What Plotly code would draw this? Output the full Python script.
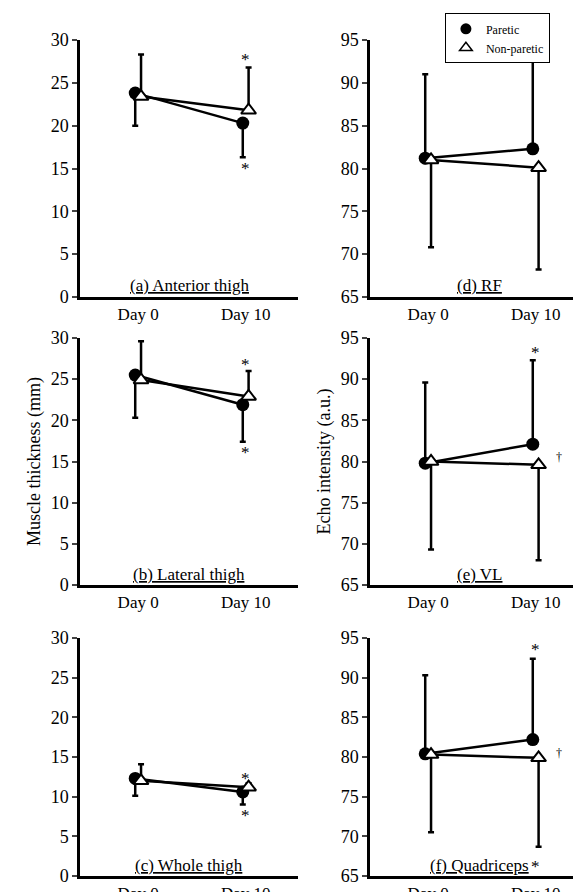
import plotly.graph_objects as go

days = ["Day 0", "Day 10"]
xpos = [0.8, 2.28]
panels = ["(a) Anterior thigh", "(b) Lateral thigh", "(c) Whole thigh", "(d) RF", "(e) VL", "(f) Quadriceps"]
paretic = [[23.8, 20.3], [25.5, 21.9], [12.3, 10.6], [81.2, 82.3], [79.8, 82.1], [80.4, 82.2]]
paretic_err = [[3.8, 4.0], [5.2, 4.5], [2.2, 1.6], [9.8, 10.3], [9.8, 10.2], [9.9, 10.2]]
nonparetic = [[23.4, 21.8], [24.9, 22.9], [12.0, 11.2], [81.0, 80.1], [80.0, 79.6], [80.3, 79.9]]
nonparetic_err = [[4.9, 5.0], [4.7, 3.1], [2.1, 0.5], [10.2, 11.9], [10.7, 11.6], [9.8, 11.2]]
# significance marks: (panel, day index, y, text, dx)
marks = [(0, 1, 27.7, "*", 0), (0, 1, 15.0, "*", 0), (1, 1, 26.8, "*", 0), (1, 1, 16.1, "*", 0),
         (2, 1, 12.3, "*", 0), (2, 1, 7.6, "*", 0), (4, 1, 93.2, "*", 0), (4, 1, 80.5, "†", 0.32),
         (5, 1, 93.5, "*", 0), (5, 1, 80.5, "†", 0.32), (5, 1, 66.2, "*", 0)]

FONT = "Liberation Serif, Times New Roman, serif"
W, H = 581, 892
xdom = [(72 / W, 290 / W), (362 / W, 580 / W)]
rows_px = [(32, 289), (330, 577), (630, 868)]

fig = go.Figure()
for i in range(6):
    col, row = i // 3, i % 3
    ax = i + 1
    xa, ya = ("x" if ax == 1 else f"x{ax}"), ("y" if ax == 1 else f"y{ax}")
    left = col == 0
    fig.add_trace(go.Scatter(
        x=[p - 0.04 for p in xpos], y=paretic[i], xaxis=xa, yaxis=ya, name="Paretic",
        showlegend=False, mode="lines+markers",
        line=dict(color="black", width=2.5), marker=dict(symbol="circle", size=13, color="black"),
        error_y=dict(type="data", array=[0, 0] if left else paretic_err[i],
                     arrayminus=paretic_err[i] if left else [0, 0],
                     symmetric=False, color="black", thickness=2.5, width=3)))
    fig.add_trace(go.Scatter(
        x=[p + 0.04 for p in xpos], y=nonparetic[i], xaxis=xa, yaxis=ya, name="Non-paretic",
        showlegend=False, mode="lines+markers",
        line=dict(color="black", width=2.5),
        marker=dict(symbol="triangle-up", size=13, color="white", line=dict(color="black", width=2)),
        error_y=dict(type="data", array=nonparetic_err[i] if left else [0, 0],
                     arrayminus=[0, 0] if left else nonparetic_err[i],
                     symmetric=False, color="black", thickness=2.5, width=3)))
    y0, y1 = rows_px[row]
    rng = [0, 30] if left else [65, 95]
    fig.layout[f"xaxis{ax if ax > 1 else ''}"] = dict(
        domain=list(xdom[col]), range=[0, 3], anchor=ya, tickvals=xpos, ticktext=days,
        showline=True, linecolor="black", linewidth=2.5, ticks="", showgrid=False, zeroline=False,
        tickfont=dict(size=17, family=FONT, color="black"))
    fig.layout[f"yaxis{ax if ax > 1 else ''}"] = dict(
        domain=[1 - y1 / H, 1 - y0 / H], range=rng, anchor=xa, dtick=5,
        showline=True, linecolor="black", linewidth=2.5, ticks="outside", ticklen=5, tickwidth=2,
        showgrid=False, zeroline=False, tickfont=dict(size=18, family=FONT, color="black"),
        title=dict(text=("Muscle thickness (mm)" if left else "Echo intensity (a.u.)") if row == 1 else "",
                   font=dict(size=18, family=FONT, color="black"), standoff=6))
    fig.add_annotation(x=1.5, y=rng[0] + 1.3, xref=xa, yref=ya, text=f"<u>{panels[i]}</u>",
                       showarrow=False, font=dict(size=17, family=FONT, color="black"))

# legend-only traces (markers only)
fig.add_trace(go.Scatter(x=[None], y=[None], mode="markers", name="Paretic",
                         marker=dict(symbol="circle", size=11, color="black")))
fig.add_trace(go.Scatter(x=[None], y=[None], mode="markers", name="Non-paretic",
                         marker=dict(symbol="triangle-up", size=11, color="white",
                                     line=dict(color="black", width=1.5))))

for (p, d, y, t, dx) in marks:
    ax = p + 1
    fig.add_annotation(x=xpos[d] + dx, y=y, xref="x" if ax == 1 else f"x{ax}",
                       yref="y" if ax == 1 else f"y{ax}", text=f'<span style="color:black">{t}</span>',
                       showarrow=False,
                       font=dict(size=17 if t == "*" else 12, family=FONT, color="#000000"))

fig.update_layout(
    template="none", font=dict(family=FONT, color="black"),
    width=W, height=H, margin=dict(l=0, r=0, t=0, b=0), plot_bgcolor="white", paper_bgcolor="white",
    legend=dict(x=0.752, y=0.994, xanchor="left", yanchor="top", bordercolor="black", borderwidth=1,
                font=dict(size=12, family=FONT, color="black"), bgcolor="white", itemwidth=30,
                tracegroupgap=0))
fig.write_html("out.html")
